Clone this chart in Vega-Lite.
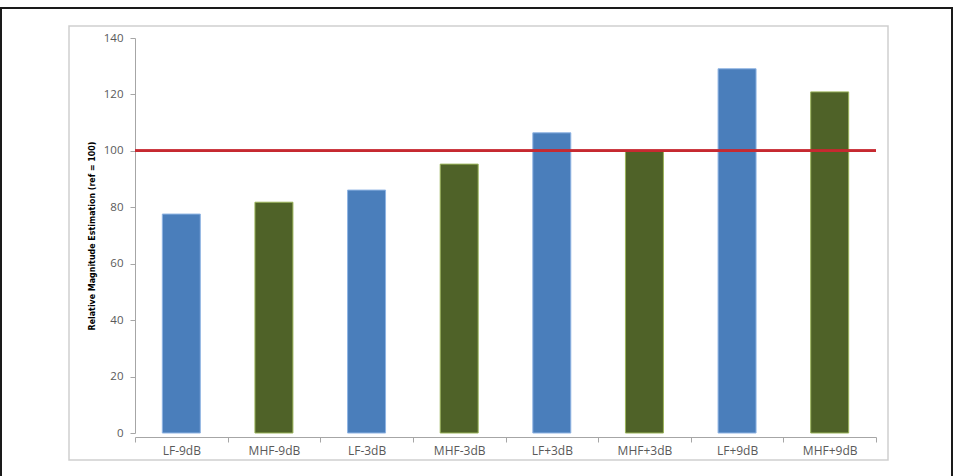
{
  "$schema": "https://vega.github.io/schema/vega-lite/v6.json",
  "width": 951,
  "height": 470,
  "autosize": {"type": "none"},
  "padding": {"left": 1, "top": 8, "right": 5, "bottom": -2},
  "background": "white",
  "config": {
    "view": {"stroke": "#1a1a1a", "strokeWidth": 2},
    "font": "Open Sans"
  },
  "layer": [
    {
      "description": "Light grey chart-area frame",
      "data": {"values": [{}]},
      "mark": {"type": "rect", "filled": false, "stroke": "#cfcfcf", "strokeWidth": 1.5},
      "encoding": {
        "x": {"datum": 0, "type": "quantitative", "scale": {"domain": [0, 1], "range": [68, 887]}, "axis": null},
        "x2": {"datum": 1},
        "y": {"datum": 0, "type": "quantitative", "scale": {"domain": [0, 1], "range": [452, 18]}, "axis": null},
        "y2": {"datum": 1}
      }
    },
    {
      "data": {
        "values": [
          {"condition": "LF-9dB", "band": "LF", "estimate": 77.6},
          {"condition": "MHF-9dB", "band": "MHF", "estimate": 81.8},
          {"condition": "LF-3dB", "band": "LF", "estimate": 86.1},
          {"condition": "MHF-3dB", "band": "MHF", "estimate": 95.3},
          {"condition": "LF+3dB", "band": "LF", "estimate": 106.4},
          {"condition": "MHF+3dB", "band": "MHF", "estimate": 100.1},
          {"condition": "LF+9dB", "band": "LF", "estimate": 129.1},
          {"condition": "MHF+9dB", "band": "MHF", "estimate": 120.9}
        ]
      },
      "layer": [
        {
          "mark": {"type": "bar", "width": {"band": 0.41}, "strokeWidth": 1},
          "encoding": {
            "x": {
              "field": "condition",
              "type": "nominal",
              "sort": null,
              "scale": {"range": [134, 875], "paddingInner": 0, "paddingOuter": 0},
              "axis": {
                "title": null,
                "offset": -41,
                "tickBand": "extent",
                "labelAngle": 0,
                "labelFontSize": 12,
                "labelColor": "#595959",
                "labelPadding": 3,
                "domainColor": "#a6a6a6",
                "tickColor": "#a6a6a6",
                "tickSize": 5
              }
            },
            "y": {
              "field": "estimate",
              "type": "quantitative",
              "scale": {"domain": [0, 140], "range": [425, 30], "nice": false},
              "axis": {
                "title": "Relative Magnitude Estimation (ref = 100)",
                "values": [0, 20, 40, 60, 80, 100, 120, 140],
                "offset": -134,
                "grid": false,
                "domainColor": "#a6a6a6",
                "tickColor": "#a6a6a6",
                "tickSize": 5,
                "labelColor": "#595959",
                "labelFontSize": 11.5,
                "labelPadding": 7,
                "titleFont": "DejaVu Sans Condensed, sans-serif",
                "titleFontSize": 8.8,
                "titleFontWeight": "bold",
                "titleColor": "#000000",
                "titlePadding": 7
              }
            },
            "color": {
              "field": "band",
              "type": "nominal",
              "scale": {"domain": ["LF", "MHF"], "range": ["#4a7ebb", "#4f6228"]},
              "legend": null
            },
            "stroke": {
              "field": "band",
              "type": "nominal",
              "scale": {"domain": ["LF", "MHF"], "range": ["#8fb4e3", "#9bb45a"]},
              "legend": null
            }
          }
        },
        {
          "mark": {"type": "rule", "color": "#c62a31", "strokeWidth": 2},
          "encoding": {
            "x": {"datum": "LF-9dB", "type": "nominal", "bandPosition": 0},
            "x2": {"datum": "MHF+9dB", "bandPosition": 1},
            "y": {"datum": 100, "type": "quantitative"}
          }
        }
      ]
    }
  ],
  "resolve": {"scale": {"x": "independent", "y": "independent"}}
}
